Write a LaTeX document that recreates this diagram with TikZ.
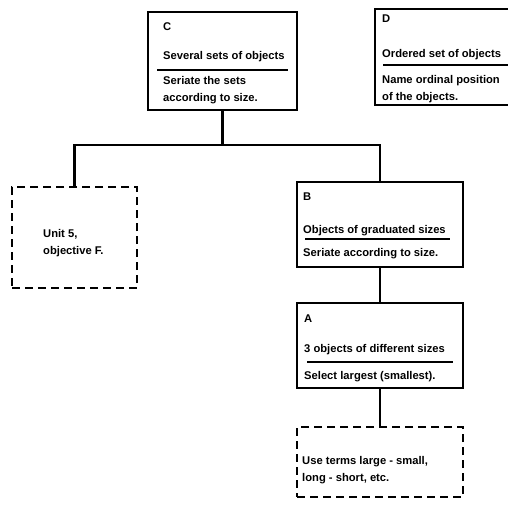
\documentclass[tikz,border=0pt]{standalone}
\usepackage{fontspec}
\setmainfont{Liberation Sans}
\usetikzlibrary{positioning}

\begin{document}
\begin{tikzpicture}[x=1pt,y=-1pt,
                    font=\fontsize{11.2}{13}\selectfont\bfseries]
  \tikzstyle{objbox}=[draw=black,line width=1.4pt,inner sep=0pt]
  \tikzstyle{refbox}=[objbox,dash pattern=on 8pt off 5pt]
  \tikzstyle{txt}=[anchor=base west,inner sep=0pt]
  \tikzstyle{rule}=[line width=1.3pt]
  \tikzstyle{link}=[line width=2.2pt]

  \useasboundingbox (0,0) rectangle (508,507);

  % boxes
  \node[objbox,minimum width=149,minimum height=98] (C) at (222.5,61) {};
  \node[objbox,minimum width=140,minimum height=96] (D) at (445,57) {};
  \node[refbox,minimum width=125,minimum height=101] (F) at (74.5,237.5) {};
  \node[objbox,minimum width=166,minimum height=85] (B) at (380,224.5) {};
  \node[objbox,minimum width=166,minimum height=85] (A) at (380,345.5) {};
  \node[refbox,minimum width=166,minimum height=70] (E) at (380,462) {};

  % texts
  \node[txt] (C-tag)  at (163,30)  {C};
  \node[txt] (C-obj)  at (163,59)  {Several sets of objects};
  \node[txt] (C-act1) at (163,84)  {Seriate the sets};
  \node[txt] (C-act2) at (163,101) {according to size.};
  \draw[rule] (157,70) -- (288,70);

  \node[txt] (D-tag)  at (382,22)  {D};
  \node[txt] (D-obj)  at (382,57)  {Ordered set of objects};
  \node[txt] (D-act1) at (382,83)  {Name ordinal position};
  \node[txt] (D-act2) at (382,100) {of the objects.};
  \draw[rule] (383,65) -- (515,65);

  \node[txt] (F-ref1) at (43,237) {Unit 5,};
  \node[txt] (F-ref2) at (43,254) {objective F.};

  \node[txt] (B-tag) at (303,200) {B};
  \node[txt] (B-obj) at (303,233) {Objects of graduated sizes};
  \node[txt] (B-act) at (303,256) {Seriate according to size.};
  \draw[rule] (305,239) -- (450,239);

  \node[txt] (A-tag) at (304,322) {A};
  \node[txt] (A-obj) at (304,352) {3 objects of different sizes};
  \node[txt] (A-act) at (304,379) {Select largest (smallest).};
  \draw[rule] (307,362) -- (453,362);

  \node[txt] (E-ref1) at (302,464) {Use terms large - small,};
  \node[txt] (E-ref2) at (302,481) {long - short, etc.};

  % connectors
  \coordinate (fork) at (222.5,145);
  \draw[link] (C) -- (fork);
  \draw[link] (F.north) |- (fork) -| (B.north);
  \draw[link] (B) -- (A);
  \draw[link] (A) -- (E);
\end{tikzpicture}
\end{document}
